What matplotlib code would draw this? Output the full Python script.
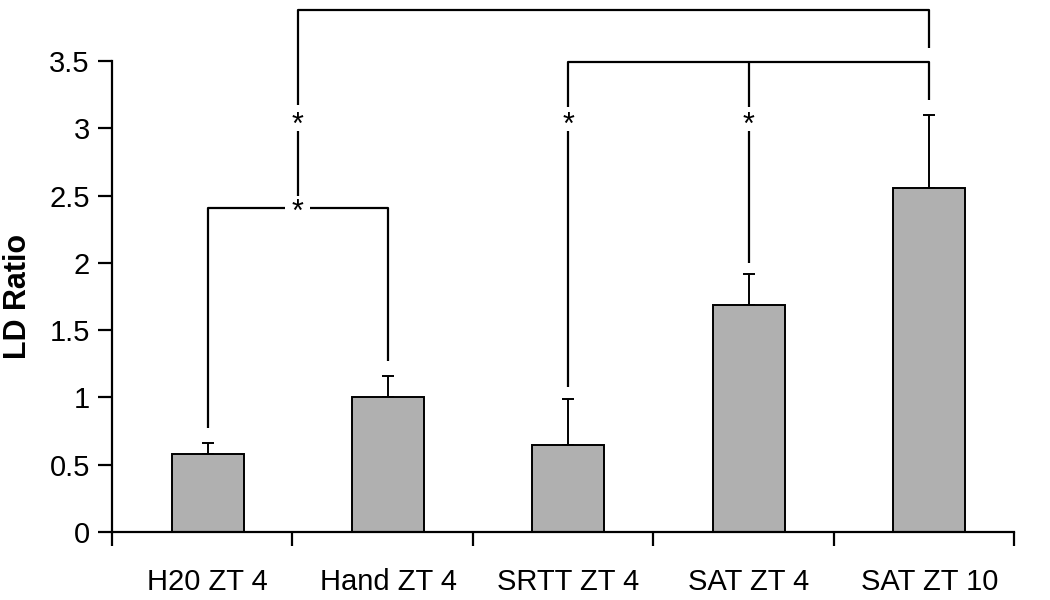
import matplotlib.pyplot as plt
import numpy as np

plt.rcParams['font.family'] = ['Liberation Sans', 'DejaVu Sans']

groups = ['H20 ZT 4', 'Hand ZT 4', 'SRTT ZT 4', 'SAT ZT 4', 'SAT ZT 10']
ld_ratio = [0.58, 1.00, 0.65, 1.69, 2.56]
err_up = [0.08, 0.16, 0.34, 0.23, 0.54]
y_ticks = [0, 0.5, 1, 1.5, 2, 2.5, 3, 3.5]
y_tick_labels = ['0', '0.5', '1', '1.5', '2', '2.5', '3', '3.5']

fig = plt.figure(figsize=(10.5, 6), dpi=100)
ax = fig.add_axes([0.1067, 0.1133, 0.8590, 0.785])

x = np.arange(len(groups)) + 0.03
ax.bar(x, ld_ratio, width=0.4, color='#b0b0b0', edgecolor='black', linewidth=1.4, zorder=2)
ax.errorbar(x, ld_ratio, yerr=[np.zeros(len(x)), err_up], fmt='none', ecolor='black',
            elinewidth=1.4, capsize=4, capthick=1.4, zorder=1)

ax.set_xlim(-0.5, len(groups) - 0.5)
ax.set_ylim(0, 3.5)
ax.set_yticks(y_ticks)
ax.set_yticklabels(y_tick_labels, fontsize=21)
ax.set_ylabel('LD Ratio', fontsize=22, fontweight='bold', labelpad=12)

# category boundaries as ticks, labels at bar centres
ax.set_xticks(np.arange(len(groups) + 1) - 0.5)
ax.set_xticklabels([])
ax.set_xticks(x, minor=True)
ax.set_xticklabels(groups, minor=True, fontsize=21)
ax.tick_params(axis='x', which='minor', length=0, pad=26)
ax.tick_params(axis='both', which='major', direction='out', length=10, width=1.6)
ax.tick_params(axis='y', pad=6)

for side in ['top', 'right']:
    ax.spines[side].set_visible(False)
for side in ['left', 'bottom']:
    ax.spines[side].set_linewidth(1.6)

lk = dict(color='black', linewidth=1.6, clip_on=False, solid_capstyle='butt')
sk = dict(fontsize=22, ha='center', va='center', clip_on=False)

# top bracket: midpoint of H20/Hand bracket to SAT ZT 10
ax.plot([x[0] + 0.5, x[0] + 0.5, x[4], x[4]], [3.17, 3.88, 3.88, 3.60], **lk)
ax.plot([x[0] + 0.5, x[0] + 0.5], [2.98, 2.50], **lk)
ax.text(x[0] + 0.5, 3.02, '*', **sk)

# SRTT / SAT ZT 4 vs SAT ZT 10
ax.plot([x[2], x[2], x[4], x[4]], [3.16, 3.49, 3.49, 3.21], **lk)
ax.plot([x[3], x[3]], [3.49, 3.16], **lk)
ax.plot([x[2], x[2]], [2.98, 1.08], **lk)
ax.plot([x[3], x[3]], [2.98, 2.00], **lk)
ax.text(x[2], 3.02, '*', **sk)
ax.text(x[3], 3.02, '*', **sk)

# H20 vs Hand
ax.plot([x[0], x[0], x[0] + 0.43], [0.77, 2.41, 2.41], **lk)
ax.plot([x[0] + 0.57, x[1], x[1]], [2.41, 2.41, 1.27], **lk)
ax.text(x[0] + 0.5, 2.37, '*', **sk)

fig.savefig('out.png', dpi=100)
